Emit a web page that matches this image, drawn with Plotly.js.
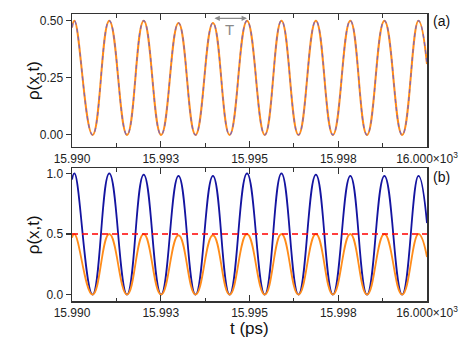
<!DOCTYPE html>
<html>
<head>
<meta charset="utf-8">
<script src="https://cdn.plot.ly/plotly-3.0.1.min.js"></script>
<style>
  html, body { margin: 0; padding: 0; background: #fff; }
  #plot { width: 471px; height: 361px; }
</style>
</head>
<body>
<div id="plot"></div>
<script>
// times of the turning points (ps)
const tTurn = [15990.00, 15990.07, 15990.58, 15991.05, 15991.55, 15992.02, 15992.51, 15993.00,
               15993.48, 15993.97, 15994.44, 15994.93, 15995.43, 15995.90, 15996.38, 15996.87,
               15997.35, 15997.84, 15998.31, 15998.80, 15999.30, 15999.76, 16000.00];
// density at those points
const rhoHalf = [0.47, 0.50, 0.00, 0.50, 0.00, 0.50, 0.00, 0.49, 0.00, 0.49, 0.00, 0.50,
                 0.00, 0.50, 0.00, 0.50, 0.00, 0.50, 0.00, 0.50, 0.00, 0.50, 0.31];
const rhoFull = [0.95, 1.00, 0.00, 1.00, 0.00, 0.99, 0.00, 0.98, 0.00, 0.98, 0.00, 1.00,
                 0.00, 1.00, 0.00, 0.99, 0.00, 0.98, 0.00, 0.98, 0.00, 0.98, 0.59];
const tRange = [15990, 16000];
const levelLine = [0.5, 0.5];

const tickVals = [15990, 15992.5, 15995, 15997.5, 16000];
const tickText = ["15.990", "15.993", "15.995", "15.998", "16.000×10<sup>3</sup>"];

const orange = "#ff8c1a";
const navy = "#1414a0";

let traces = [
    { x: tTurn, y: rhoHalf, xaxis: "x", yaxis: "y", mode: "lines",
      line: { color: orange, width: 2, shape: "spline", smoothing: 1.3 } },
    { x: tTurn, y: rhoHalf, xaxis: "x", yaxis: "y", mode: "lines",
      line: { color: "rgba(90,90,230,0.75)", width: 1.3, dash: "4px,4px", shape: "spline", smoothing: 1.3 } },
    { x: tTurn, y: rhoFull, xaxis: "x2", yaxis: "y2", mode: "lines",
      line: { color: navy, width: 1.8, shape: "spline", smoothing: 1.3 } },
    { x: tTurn, y: rhoHalf, xaxis: "x2", yaxis: "y2", mode: "lines",
      line: { color: orange, width: 1.8, shape: "spline", smoothing: 1.3 } },
    { x: tRange, y: levelLine, xaxis: "x2", yaxis: "y2", mode: "lines",
      line: { color: "#ff0000", width: 1.5, dash: "6px,4px" } }
];

let frame = "#333";
let tickFont = { family: "Liberation Sans, Arial, sans-serif", size: 12, color: "#222" };

function xAxis(anchor) {
    return {
        anchor: anchor, range: tRange, tickmode: "array", tickvals: tickVals, ticktext: tickText,
        ticks: "inside", ticklen: 6, tickcolor: frame, tickwidth: 1.2,
        minor: { dtick: 1.25, ticks: "inside", ticklen: 3.5, tickcolor: frame, tickwidth: 1.2, showgrid: false },
        showline: true, linecolor: frame, linewidth: 1.5, mirror: "ticks",
        showgrid: false, zeroline: false, tickfont: tickFont
    };
}

function yAxis(range, dtick, fmt, anchor) {
    return {
        anchor: anchor, range: range, tick0: 0, dtick: dtick, tickformat: fmt,
        ticks: "outside", ticklen: 5, tickcolor: frame, tickwidth: 1.2,
        showline: true, linecolor: frame, linewidth: 1.5, mirror: true,
        showgrid: false, zeroline: false, tickfont: tickFont
    };
}

function rightAxis(over, range, dtick, anchor) {
    return {
        overlaying: over, side: "right", anchor: anchor, range: range, tick0: 0, dtick: dtick,
        ticks: "inside", ticklen: 5, tickcolor: frame, tickwidth: 1.2,
        showticklabels: false, showline: false, showgrid: false, zeroline: false
    };
}

let rangeA = [-0.0525, 0.529];
let rangeB = [-0.053, 1.044];

let labelFont = { family: "Liberation Sans, Arial, sans-serif", size: 17, color: "#111" };
let panelFont = { family: "Liberation Sans, Arial, sans-serif", size: 14, color: "#111" };
let gray = "#8a8a8a";

let layout = {
    width: 471, height: 361,
    margin: { l: 72, r: 44, t: 14, b: 60 },
    paper_bgcolor: "#fff", plot_bgcolor: "#fff",
    showlegend: false,
    xaxis: Object.assign(xAxis("y"), { domain: [0, 1] }),
    yaxis: Object.assign(yAxis(rangeA, 0.25, ".2f", "x"), { domain: [0.537, 1] }),
    xaxis2: Object.assign(xAxis("y2"), { domain: [0, 1] }),
    yaxis2: Object.assign(yAxis(rangeB, 0.5, ".1f", "x2"), { domain: [0, 0.463] }),
    yaxis3: rightAxis("y", rangeA, 0.125, "x"),
    yaxis4: rightAxis("y2", rangeB, 0.25, "x2"),
    annotations: [
        { text: "ρ(x,t)", xref: "paper", yref: "paper", x: -0.108, y: 0.7685, textangle: -90,
          showarrow: false, font: labelFont, xanchor: "center", yanchor: "middle" },
        { text: "ρ(x,t)", xref: "paper", yref: "paper", x: -0.108, y: 0.2315, textangle: -90,
          showarrow: false, font: labelFont, xanchor: "center", yanchor: "middle" },
        { text: "t (ps)", xref: "paper", yref: "paper", x: 0.5, y: -0.095,
          showarrow: false, font: labelFont, xanchor: "center", yanchor: "middle" },
        { text: "(a)", xref: "paper", yref: "paper", x: 1.012, y: 0.977, showarrow: false,
          font: panelFont, xanchor: "left", yanchor: "middle" },
        { text: "(b)", xref: "paper", yref: "paper", x: 1.012, y: 0.432, showarrow: false,
          font: panelFont, xanchor: "left", yanchor: "middle" },
        // period arrow between two neighbouring peaks
        { text: "", xref: "x", yref: "y", x: tTurn[11], y: 0.51, axref: "x", ayref: "y", ax: tTurn[9], ay: 0.51,
          showarrow: true, arrowside: "end+start", arrowhead: 2, arrowsize: 0.9, arrowwidth: 1.2, arrowcolor: gray },
        { text: "T", xref: "x", yref: "y", x: (tTurn[9] + tTurn[11]) / 2, y: 0.46, showarrow: false,
          font: { family: "Liberation Sans, Arial, sans-serif", size: 15, color: gray } }
    ]
};

Plotly.newPlot("plot", traces, layout, { staticPlot: true });
</script>
</body>
</html>
